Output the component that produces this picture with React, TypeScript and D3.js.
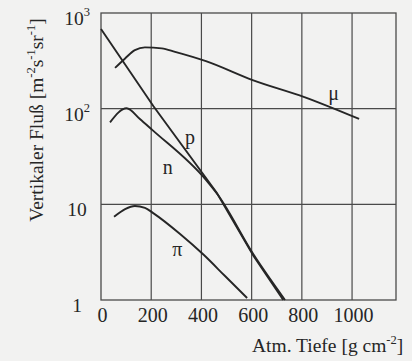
import React from "react";
import * as d3 from "d3";

// Data: atmospheric depth [g cm^-2] vs vertical flux
const muDepth = [56, 96, 135, 175, 242, 295, 418, 604, 810, 1028];
const muFlux = [267, 335, 410, 437, 427, 393, 314, 199, 132, 78];

const pDepth = [0, 209, 461, 607, 726];
const pFlux = [680, 106, 13.2, 2.9, 1.0];

const nDepth = [36, 102, 155, 204, 418, 466, 607, 733];
const nFlux = [72, 101, 78, 60, 18, 12.5, 3.0, 1.0];

const piDepth = [52, 96, 135, 175, 208, 315, 410, 494, 582];
const piFlux = [7.4, 8.9, 9.6, 9.2, 8.1, 4.9, 2.95, 1.78, 1.05];

const xTicks = [0, 200, 400, 600, 800, 1000];
const xGrid = [200, 400, 600, 800, 1000];
const yTicks = [1, 10, 100, 1000];
const yTickExp = ["", "", "2", "3"];
const yTickBase = ["1", "10", "10", "10"];
const yGrid = [10, 100];

const seriesNames = ["μ", "p", "n", "π"];
const labelDepth = [927, 354, 266, 304];
const labelFlux = [146, 50, 24.5, 3.4];

const W = 412;
const H = 361;
const FONT = "'Liberation Serif', 'Times New Roman', serif";

export default function App() {
  const left = 101, right = 396, top = 13, bottom = 300;
  const x = d3.scaleLinear().domain([0, 1175]).range([left, right]);
  const y = d3.scaleLog().domain([1, 1000]).range([bottom, top]);

  const smooth = d3
    .line<[number, number]>()
    .x((d) => x(d[0]))
    .y((d) => y(d[1]))
    .curve(d3.curveMonotoneX);
  const straight = d3
    .line<[number, number]>()
    .x((d) => x(d[0]))
    .y((d) => y(d[1]));

  const series = [
    { pts: d3.zip(muDepth, muFlux) as [number, number][], gen: smooth },
    { pts: d3.zip(pDepth, pFlux) as [number, number][], gen: straight },
    { pts: d3.zip(nDepth, nFlux) as [number, number][], gen: smooth },
    { pts: d3.zip(piDepth, piFlux) as [number, number][], gen: smooth },
  ];

  const ink = "#262626";
  const gridInk = "#4a4a4a";

  return (
    <svg
      width={W}
      height={H}
      style={{ position: "absolute", left: 0, top: 0 }}
      fontFamily={FONT}
    >
      <rect x={0} y={0} width={W} height={H} fill="#f2f2f1" />
      {/* grid */}
      {xGrid.map((v) => (
        <line key={"gx" + v} x1={x(v)} x2={x(v)} y1={top} y2={bottom} stroke={gridInk} strokeWidth={1.2} />
      ))}
      {yGrid.map((v) => (
        <line key={"gy" + v} x1={left} x2={right} y1={y(v)} y2={y(v)} stroke={gridInk} strokeWidth={1.2} />
      ))}
      <rect x={left} y={top} width={right - left} height={bottom - top} fill="none" stroke={gridInk} strokeWidth={1.3} />

      {/* curves */}
      {series.map((s, i) => (
        <path key={"s" + i} d={s.gen(s.pts) || ""} fill="none" stroke={ink} strokeWidth={1.9} />
      ))}

      {/* series labels */}
      {seriesNames.map((n, i) => (
        <text
          key={"l" + i}
          x={x(labelDepth[i])}
          y={y(labelFlux[i])}
          textAnchor="middle"
          dominantBaseline="central"
          fontSize={20}
          fill={ink}
        >
          {n}
        </text>
      ))}

      {/* x tick labels */}
      {xTicks.map((v) => (
        <text key={"xt" + v} x={x(v) + 1.5} y={322} textAnchor="middle" fontSize={20} fill={ink}>
          {v}
        </text>
      ))}

      {/* y tick labels */}
      {yTicks.map((v, i) => (
        <text key={"yt" + v} x={77} y={y(v) + 12} textAnchor="middle" fontSize={19.5} fill={ink}>
          {yTickBase[i]}
          {yTickExp[i] && (
            <tspan fontSize={12.5} dy={-9}>
              {yTickExp[i]}
            </tspan>
          )}
        </text>
      ))}

      {/* axis titles */}
      <text x={252} y={352} fontSize={19.5} fill={ink}>
        Atm. Tiefe [g cm
        <tspan fontSize={12.5} dy={-8}>-2</tspan>
        <tspan dy={8}>]</tspan>
      </text>
      <text
        transform={`translate(43,120) rotate(-90)`}
        textAnchor="middle"
        fontSize={19.5}
        fill={ink}
      >
        Vertikaler Fluß [m
        <tspan fontSize={12.5} dy={-8}>-2</tspan>
        <tspan dy={8}>s</tspan>
        <tspan fontSize={12.5} dy={-8}>-1</tspan>
        <tspan dy={8}>sr</tspan>
        <tspan fontSize={12.5} dy={-8}>-1</tspan>
        <tspan dy={8}>]</tspan>
      </text>
    </svg>
  );
}
